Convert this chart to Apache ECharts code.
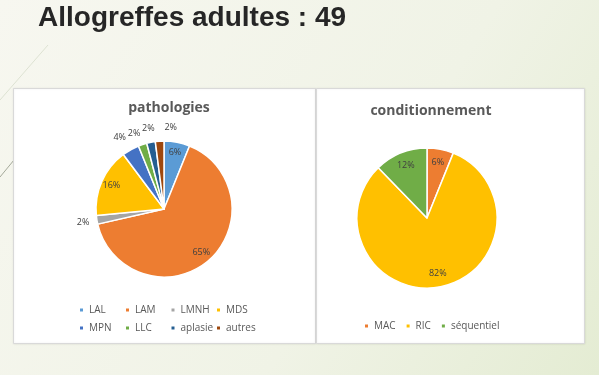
<!DOCTYPE html>
<html><head><meta charset="utf-8">
<script src="https://cdn.jsdelivr.net/npm/echarts@6/dist/echarts.min.js"></script>
<style>html,body{margin:0;padding:0;background:#f3f5ec;}#c{width:599px;height:375px;}</style>
</head><body><div id="c"></div>
<script>
// ---- data ----
const pathoCategories = ['LAL', 'LAM', 'LMNH', 'MDS', 'MPN', 'LLC', 'aplasie', 'autres'];
const pathoValues = [3, 32, 1, 8, 2, 1, 1, 1];
const condCategories = ['MAC', 'RIC', 'séquentiel'];
const condValues = [3, 40, 6];
const pathoLegendRows = [['LAL', 'LAM', 'LMNH', 'MDS'], ['MPN', 'LLC', 'aplasie', 'autres']];

// ---- styles ----
const pathoColors = ['#5B9BD5', '#ED7D31', '#A5A5A5', '#FFC000', '#4472C4', '#70AD47', '#255E91', '#9E480E'];
const condColors = ['#ED7D31', '#FFC000', '#70AD47'];
const pathoInsideLabels = ['LAL', 'LAM', 'MDS'];
const labelNudge = { 'MPN': [-4, 0], 'LLC': [-4, 2], 'autres': [12, 0] };

const chart = echarts.init(document.getElementById('c'), null, { renderer: 'canvas' });

function pct(values) {
  const total = values.reduce((a, b) => a + b, 0);
  return p => Math.round(p.value / total * 100) + '%';
}
const labelFont = { fontFamily: 'Open Sans', fontSize: 9, color: '#404040' };

function mainData(cats, vals, colors) {
  return cats.map((c, i) => ({ name: c, value: vals[i], itemStyle: { color: colors[i] } }));
}
function labelData(cats, vals, showFn) {
  return cats.map((c, i) => ({
    name: c, value: vals[i],
    itemStyle: { color: 'rgba(0,0,0,0)' },
    label: { show: showFn(c), offset: labelNudge[c] || [0, 0] }
  }));
}

const pC = [164, 209], pR = 68;
const cC = [427, 218], cR = 70;

const series = [
  {
    type: 'pie', name: 'pathologies', center: pC, radius: pR, startAngle: 90, clockwise: true,
    label: { show: false }, labelLine: { show: false },
    itemStyle: { borderColor: '#ffffff', borderWidth: 1.5 },
    emphasis: { disabled: true }, animation: false,
    data: mainData(pathoCategories, pathoValues, pathoColors)
  },
  {
    type: 'pie', center: pC, radius: [41, pR], startAngle: 90, silent: true, animation: false,
    label: Object.assign({ position: 'inside', formatter: pct(pathoValues) }, labelFont),
    labelLine: { show: false }, emphasis: { disabled: true },
    data: labelData(pathoCategories, pathoValues, c => pathoInsideLabels.includes(c))
  },
  {
    type: 'pie', center: pC, radius: [pR, 90], startAngle: 90, silent: true, animation: false,
    label: Object.assign({ position: 'inside', formatter: pct(pathoValues) }, labelFont),
    labelLine: { show: false }, emphasis: { disabled: true },
    data: labelData(pathoCategories, pathoValues, c => !pathoInsideLabels.includes(c))
  },
  {
    type: 'pie', name: 'conditionnement', center: cC, radius: cR, startAngle: 90, clockwise: true,
    label: { show: false }, labelLine: { show: false },
    itemStyle: { borderColor: '#ffffff', borderWidth: 1.5 },
    emphasis: { disabled: true }, animation: false,
    data: mainData(condCategories, condValues, condColors)
  },
  {
    type: 'pie', center: cC, radius: [37, cR], startAngle: 90, silent: true, animation: false,
    label: Object.assign({ position: 'inside', formatter: pct(condValues) }, labelFont),
    labelLine: { show: false }, emphasis: { disabled: true },
    data: labelData(condCategories, condValues, () => true)
  }
];

const legendText = { fontFamily: 'Open Sans', fontSize: 10, color: '#595959', lineHeight: 12 };
const colLefts = [73, 119, 164.5, 210];
const legends = colLefts.map((l, ci) => ({
  orient: 'vertical', left: l, top: 299, itemGap: 6, padding: 5,
  icon: 'rect', itemWidth: 5, itemHeight: 5, selectedMode: false,
  textStyle: legendText,
  data: pathoLegendRows.map(r => r[ci])
}));
legends.push({
  orient: 'horizontal', left: 358, top: 315, itemGap: 9, padding: 5,
  icon: 'rect', itemWidth: 5, itemHeight: 5, selectedMode: false,
  textStyle: legendText,
  data: condCategories
});

chart.setOption({
  backgroundColor: new echarts.graphic.LinearGradient(0, 0, 1, 1, [
    { offset: 0, color: '#f7f7f0' },
    { offset: 0.6, color: '#f0f3e6' },
    { offset: 1, color: '#e4ecd3' }
  ]),
  animation: false,
  title: [
    { text: 'Allogreffes adultes : 49', left: 33, top: -1,
      textStyle: { fontFamily: 'Liberation Sans', fontWeight: 'bold', fontSize: 28, color: '#262626' } },
    { text: 'pathologies', left: 164, textAlign: 'center', top: 96,
      textStyle: { fontFamily: 'Open Sans', fontWeight: 'bold', fontSize: 14, color: '#595959' } },
    { text: 'conditionnement', left: 426, textAlign: 'center', top: 99,
      textStyle: { fontFamily: 'Open Sans', fontWeight: 'bold', fontSize: 14, color: '#595959' } }
  ],
  graphic: [
    { type: 'line', z: 0, shape: { x1: 48, y1: 45, x2: 0, y2: 100 }, style: { stroke: '#dde2d2', lineWidth: 1 } },
    { type: 'line', z: 0, shape: { x1: 14, y1: 160, x2: 0, y2: 177 }, style: { stroke: '#a4a99a', lineWidth: 1 } },
    { type: 'rect', z: 0, shape: { x: 13.5, y: 88.5, width: 302, height: 255 },
      style: { fill: '#ffffff', stroke: '#d9d9d9', lineWidth: 1, shadowBlur: 2, shadowColor: 'rgba(0,0,0,0.08)' } },
    { type: 'rect', z: 0, shape: { x: 316.5, y: 88.5, width: 268, height: 255 },
      style: { fill: '#ffffff', stroke: '#d9d9d9', lineWidth: 1, shadowBlur: 2, shadowColor: 'rgba(0,0,0,0.08)' } }
  ],
  legend: legends,
  series: series
});
</script>
</body></html>
